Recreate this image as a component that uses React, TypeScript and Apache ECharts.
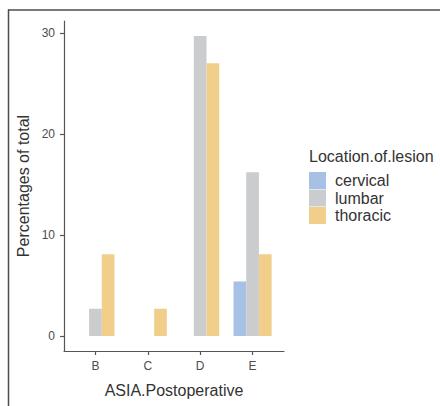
import React, { useEffect, useRef } from "react";
import * as echarts from "echarts";

const categories = ["B", "C", "D", "E"];
const seriesNames = ["cervical", "lumbar", "thoracic"];
const cervical = [0, 0, 0, 5.4];
const lumbar = [2.7, 0, 29.7, 16.2];
const thoracic = [8.1, 2.7, 27.0, 8.1];
const yTicks = [0, 10, 20, 30];
const colors = ["#A6C1E5", "#CBCCCE", "#F1CF8B"];

const FONT = "Liberation Sans, Arial, sans-serif";

export default function App() {
  const ref = useRef<HTMLDivElement>(null);
  useEffect(() => {
    if (!ref.current) return;
    const chart = echarts.init(ref.current, undefined, { renderer: "svg" });
    const xPos = categories.map((_, i) => i + 1);
    const mk = (vals: number[]) => vals.map((v, i) => [xPos[i], v]);
    const allSeries = [cervical, lumbar, thoracic];
    chart.setOption({
      animation: false,
      backgroundColor: "#ffffff",
      textStyle: { fontFamily: FONT },
      title: {
        text: "Location.of.lesion",
        left: 309,
        top: 148,
        padding: 0,
        textStyle: { fontSize: 16, fontWeight: "normal", color: "#333333", fontFamily: FONT },
      },
      legend: {
        orient: "vertical",
        left: 309,
        top: 172,
        padding: 0,
        itemWidth: 17,
        itemHeight: 17,
        itemGap: 0.5,
        icon: "rect",
        data: seriesNames,
        textStyle: { fontSize: 16, color: "#333333", fontFamily: FONT, padding: [0, 0, 0, 4], lineHeight: 17 },
      },
      grid: { left: 64, right: 156, top: 21, bottom: 55, containLabel: false },
      xAxis: {
        type: "value",
        min: 0.4,
        max: 4.6,
        name: "ASIA.Postoperative",
        nameLocation: "middle",
        nameGap: 31,
        nameTextStyle: { fontSize: 16, color: "#333333", fontFamily: FONT },
        axisLine: { show: true, onZero: false, lineStyle: { color: "#555555", width: 1.2 } },
        axisTick: { show: true, length: 4, customValues: xPos, lineStyle: { color: "#555555", width: 1.2 } },
        axisLabel: {
          customValues: xPos,
          margin: 9,
          fontSize: 12,
          color: "#4d4d4d",
          fontFamily: FONT,
          formatter: (v: number) => categories[Math.round(v) - 1] ?? "",
        },
        splitLine: { show: false },
      },
      yAxis: {
        type: "value",
        min: -1.485,
        max: 31.185,
        name: "Percentages of total",
        nameLocation: "middle",
        nameGap: 33,
        nameTextStyle: { fontSize: 16, color: "#333333", fontFamily: FONT },
        axisLine: { show: true, lineStyle: { color: "#555555", width: 1.2 } },
        axisTick: { show: true, length: 4, customValues: yTicks, lineStyle: { color: "#555555", width: 1.2 } },
        axisLabel: { customValues: yTicks, margin: 9, fontSize: 12, color: "#4d4d4d", fontFamily: FONT },
        splitLine: { show: false },
      },
      series: seriesNames.map((name, k) => ({
        name,
        type: "bar",
        barWidth: 12.7,
        barGap: "0%",
        itemStyle: { color: colors[k] },
        data: mk(allSeries[k]),
      })),
      graphic: [
        { type: "line", shape: { x1: 8, y1: 10, x2: 440, y2: 10 }, style: { stroke: "#4d4d4d", lineWidth: 1.5 } },
        { type: "line", shape: { x1: 8.5, y1: 9.5, x2: 8.5, y2: 406 }, style: { stroke: "#4d4d4d", lineWidth: 1.5 } },
      ],
    });
    return () => chart.dispose();
  }, []);
  return (
    <div
      ref={ref}
      style={{ position: "fixed", left: 0, top: 0, width: 440, height: 406 }}
    />
  );
}
